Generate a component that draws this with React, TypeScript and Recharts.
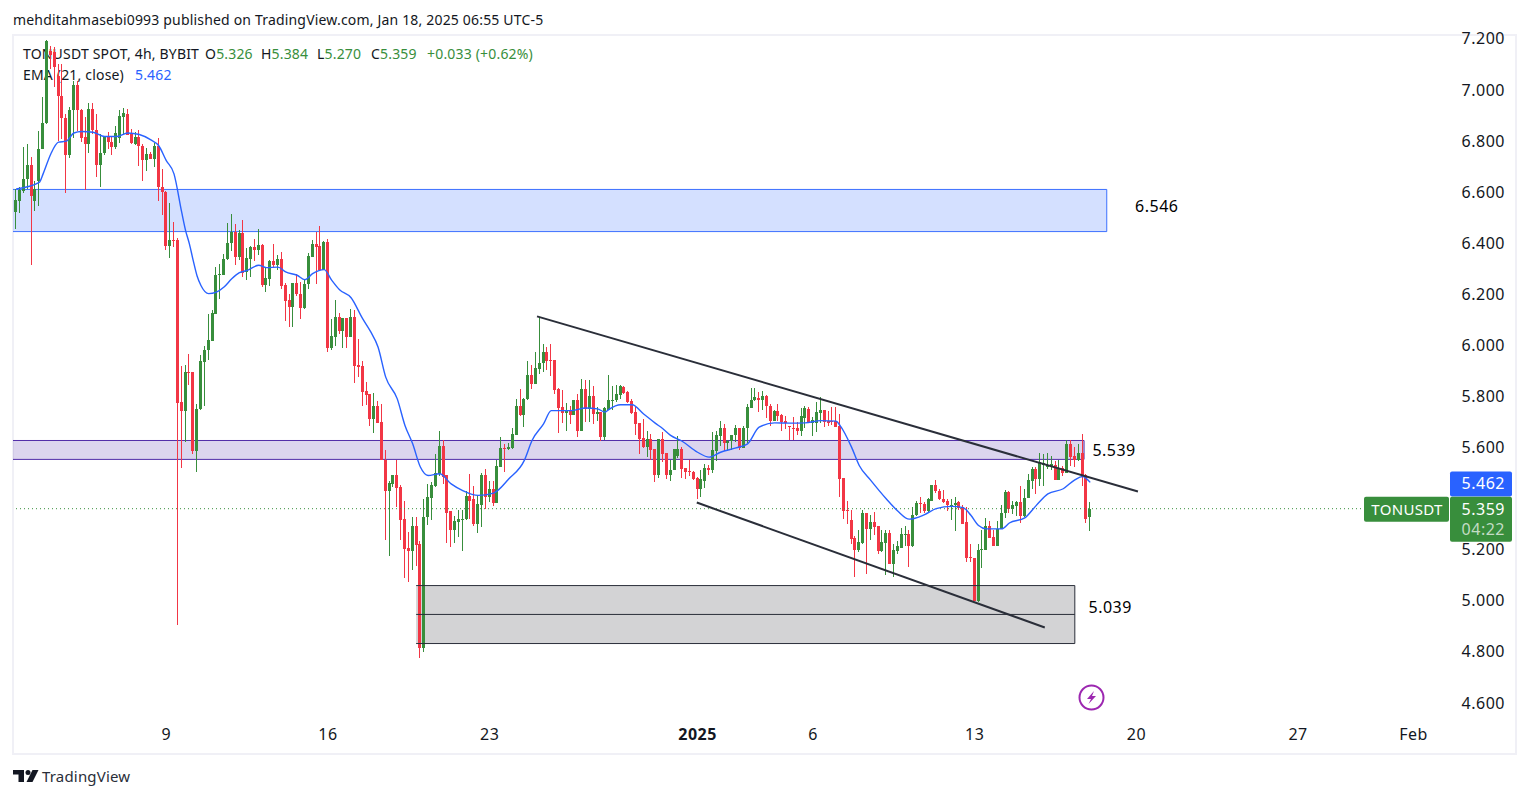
import { Bar, ComposedChart, Line, ReferenceArea, ReferenceDot, ReferenceLine, XAxis, YAxis } from "recharts";

const FONT = "'Noto Sans', sans-serif";
const UP = "#388e3c";
const DOWN = "#f23645";
const TEXT = "#131722";
const LINE = "#2a2e39";

// 4h candles
const opens = [
  6.522, 6.562, 6.601, 6.648, 6.706, 6.562, 6.644, 6.768, 6.868, 7.15,
  7.146, 7.055, 6.974, 6.889, 6.742, 6.92, 7.016, 6.92, 6.813, 6.787,
  6.924, 6.843, 6.706, 6.752, 6.813, 6.796, 6.777, 6.811, 6.894, 6.905,
  6.83, 6.787, 6.813, 6.781, 6.726, 6.748, 6.729, 6.778, 6.62, 6.598,
  6.386, 6.41, 6.41, 5.777, 5.74, 5.895, 5.893, 5.583, 5.748, 5.932,
  5.979, 6.014, 6.12, 6.274, 6.273, 6.335, 6.399, 6.442, 6.344, 6.438,
  6.286, 6.335, 6.383, 6.37, 6.39, 6.233, 6.257, 6.327, 6.312, 6.335,
  6.233, 6.175, 6.147, 6.244, 6.201, 6.143, 6.24, 6.344, 6.394, 6.386,
  6.295, 6.402, 5.987, 6.031, 6.108, 6.053, 6.104, 6.03, 6.108, 5.92,
  5.916, 5.818, 5.807, 5.709, 5.76, 5.697, 5.549, 5.43, 5.454, 5.489,
  5.442, 5.317, 5.207, 5.192, 5.293, 5.219, 4.812, 5.325, 5.399, 5.446,
  5.496, 5.603, 5.489, 5.348, 5.274, 5.305, 5.317, 5.317, 5.407, 5.395,
  5.301, 5.375, 5.489, 5.403, 5.438, 5.383, 5.524, 5.595, 5.591, 5.595,
  5.646, 5.763, 5.724, 5.787, 5.881, 5.849, 5.904, 5.928, 5.974, 5.942,
  5.943, 5.826, 5.759, 5.732, 5.743, 5.724, 5.783, 5.665, 5.826, 5.751,
  5.802, 5.728, 5.736, 5.638, 5.747, 5.779, 5.783, 5.806, 5.837, 5.814,
  5.779, 5.736, 5.693, 5.634, 5.602, 5.63, 5.591, 5.489, 5.63, 5.579,
  5.489, 5.512, 5.567, 5.591, 5.52, 5.505, 5.501, 5.481, 5.438, 5.469,
  5.52, 5.509, 5.583, 5.642, 5.673, 5.618, 5.625, 5.646, 5.673, 5.597,
  5.673, 5.755, 5.786, 5.793, 5.786, 5.802, 5.763, 5.704, 5.743, 5.724,
  5.704, 5.681, 5.676, 5.676, 5.665, 5.716, 5.751, 5.696, 5.696, 5.732,
  5.747, 5.704, 5.704, 5.704, 5.681, 5.481, 5.352, 5.313, 5.243, 5.196,
  5.223, 5.344, 5.278, 5.305, 5.293, 5.192, 5.223, 5.262, 5.141, 5.192,
  5.207, 5.257, 5.258, 5.211, 5.333, 5.381, 5.376, 5.348, 5.391, 5.45,
  5.43, 5.398, 5.39, 5.365, 5.372, 5.384, 5.365, 5.305, 5.168, 5.164,
  4.996, 5.198, 5.199, 5.293, 5.25, 5.211, 5.278, 5.344, 5.423, 5.356,
  5.368, 5.387, 5.329, 5.399, 5.466, 5.513, 5.477, 5.53, 5.522, 5.524,
  5.532, 5.47, 5.517, 5.5, 5.614, 5.564, 5.548, 5.579, 5.489, 5.326,
];
const highs = [
  6.611, 6.618, 6.774, 6.787, 6.735, 6.644, 6.839, 6.97, 7.196, 7.172,
  7.166, 7.1, 7.1, 6.905, 6.933, 7.035, 7.035, 6.924, 6.892, 6.946,
  6.946, 6.905, 6.826, 6.816, 6.833, 6.816, 6.859, 6.922, 6.928, 6.924,
  6.846, 6.833, 6.842, 6.787, 6.772, 6.755, 6.79, 6.811, 6.689, 6.601,
  6.555, 6.481, 6.42, 5.916, 5.92, 5.966, 5.893, 5.767, 5.959, 5.995,
  6.12, 6.135, 6.305, 6.318, 6.357, 6.479, 6.514, 6.472, 6.449, 6.488,
  6.38, 6.386, 6.416, 6.453, 6.394, 6.303, 6.334, 6.394, 6.351, 6.366,
  6.243, 6.201, 6.244, 6.279, 6.246, 6.257, 6.36, 6.41, 6.442, 6.464,
  6.407, 6.413, 6.1, 6.177, 6.125, 6.104, 6.104, 6.139, 6.135, 6.022,
  5.936, 5.857, 5.809, 5.811, 5.779, 5.767, 5.587, 5.469, 5.489, 5.55,
  5.45, 5.391, 5.267, 5.326, 5.326, 5.231, 5.395, 5.454, 5.463, 5.574,
  5.665, 5.629, 5.489, 5.348, 5.332, 5.355, 5.352, 5.43, 5.496, 5.446,
  5.411, 5.499, 5.515, 5.469, 5.469, 5.548, 5.639, 5.613, 5.616, 5.676,
  5.787, 5.828, 5.793, 5.939, 5.92, 5.974, 6.109, 6.004, 5.991, 6.004,
  5.943, 5.832, 5.822, 5.772, 5.763, 5.783, 5.809, 5.867, 5.861, 5.861,
  5.841, 5.757, 5.736, 5.759, 5.884, 5.841, 5.845, 5.845, 5.841, 5.819,
  5.789, 5.756, 5.693, 5.711, 5.664, 5.652, 5.591, 5.63, 5.659, 5.579,
  5.55, 5.591, 5.642, 5.6, 5.52, 5.55, 5.505, 5.485, 5.509, 5.533,
  5.531, 5.659, 5.665, 5.704, 5.691, 5.629, 5.649, 5.685, 5.676, 5.681,
  5.77, 5.83, 5.832, 5.815, 5.818, 5.806, 5.77, 5.746, 5.77, 5.73,
  5.72, 5.681, 5.717, 5.698, 5.754, 5.763, 5.756, 5.717, 5.776, 5.796,
  5.747, 5.743, 5.756, 5.756, 5.73, 5.481, 5.391, 5.352, 5.254, 5.274,
  5.352, 5.344, 5.333, 5.346, 5.293, 5.274, 5.276, 5.274, 5.219, 5.232,
  5.284, 5.293, 5.274, 5.365, 5.391, 5.404, 5.385, 5.402, 5.45, 5.472,
  5.437, 5.434, 5.398, 5.398, 5.404, 5.391, 5.372, 5.365, 5.219, 5.164,
  5.222, 5.274, 5.322, 5.31, 5.274, 5.309, 5.372, 5.434, 5.427, 5.391,
  5.391, 5.447, 5.437, 5.493, 5.522, 5.522, 5.578, 5.574, 5.577, 5.567,
  5.545, 5.548, 5.528, 5.626, 5.629, 5.6, 5.613, 5.652, 5.496, 5.384,
];
const lows = [
  6.455, 6.516, 6.592, 6.611, 6.311, 6.526, 6.546, 6.768, 6.868, 7.08,
  7.009, 6.8, 6.807, 6.595, 6.735, 6.813, 6.84, 6.794, 6.607, 6.751,
  6.826, 6.657, 6.618, 6.746, 6.768, 6.746, 6.768, 6.794, 6.826, 6.824,
  6.787, 6.781, 6.702, 6.641, 6.68, 6.729, 6.696, 6.563, 6.507, 6.37,
  6.34, 6.383, 4.905, 5.516, 5.62, 5.846, 5.572, 5.5, 5.744, 5.76,
  5.94, 6.014, 6.12, 6.182, 6.273, 6.335, 6.368, 6.312, 6.331, 6.266,
  6.253, 6.266, 6.331, 6.351, 6.224, 6.21, 6.233, 6.305, 6.292, 6.22,
  6.096, 6.07, 6.073, 6.194, 6.1, 6.138, 6.218, 6.344, 6.237, 6.286,
  6.295, 5.972, 5.979, 5.998, 6.042, 5.987, 5.987, 6.03, 5.851, 5.874,
  5.76, 5.767, 5.685, 5.653, 5.692, 5.549, 5.235, 5.176, 5.443, 5.365,
  5.235, 5.091, 5.071, 5.117, 5.133, 4.774, 4.797, 5.293, 5.313, 5.446,
  5.489, 5.456, 5.222, 5.208, 5.228, 5.248, 5.193, 5.317, 5.319, 5.289,
  5.263, 5.289, 5.359, 5.385, 5.372, 5.383, 5.524, 5.505, 5.587, 5.595,
  5.646, 5.724, 5.678, 5.787, 5.826, 5.849, 5.884, 5.896, 5.9, 5.877,
  5.811, 5.655, 5.694, 5.663, 5.691, 5.724, 5.642, 5.665, 5.698, 5.698,
  5.694, 5.704, 5.623, 5.63, 5.747, 5.747, 5.78, 5.789, 5.809, 5.773,
  5.73, 5.648, 5.571, 5.597, 5.561, 5.55, 5.46, 5.476, 5.541, 5.476,
  5.469, 5.509, 5.555, 5.48, 5.476, 5.489, 5.469, 5.399, 5.404, 5.438,
  5.493, 5.498, 5.548, 5.606, 5.587, 5.587, 5.591, 5.618, 5.589, 5.593,
  5.619, 5.754, 5.783, 5.737, 5.743, 5.715, 5.685, 5.704, 5.704, 5.665,
  5.669, 5.626, 5.626, 5.646, 5.646, 5.678, 5.694, 5.643, 5.659, 5.696,
  5.681, 5.685, 5.685, 5.678, 5.404, 5.321, 5.3, 5.219, 5.094, 5.188,
  5.219, 5.107, 5.237, 5.254, 5.184, 5.188, 5.098, 5.141, 5.091, 5.18,
  5.207, 5.215, 5.13, 5.209, 5.333, 5.342, 5.343, 5.346, 5.391, 5.42,
  5.395, 5.385, 5.352, 5.317, 5.271, 5.355, 5.301, 5.15, 5.15, 4.996,
  4.996, 5.124, 5.199, 5.246, 5.211, 5.211, 5.309, 5.323, 5.339, 5.339,
  5.333, 5.303, 5.326, 5.399, 5.437, 5.417, 5.45, 5.45, 5.515, 5.511,
  5.47, 5.47, 5.489, 5.5, 5.528, 5.522, 5.548, 5.45, 5.306, 5.27,
];
const closes = [
  6.568, 6.607, 6.65, 6.706, 6.582, 6.611, 6.768, 6.87, 7.192, 7.135,
  7.087, 6.974, 6.888, 6.742, 6.92, 7.016, 6.92, 6.81, 6.787, 6.924,
  6.84, 6.706, 6.752, 6.813, 6.796, 6.774, 6.83, 6.898, 6.907, 6.824,
  6.79, 6.816, 6.781, 6.726, 6.746, 6.729, 6.778, 6.618, 6.598, 6.387,
  6.41, 6.407, 5.773, 5.74, 5.895, 5.893, 5.583, 5.751, 5.936, 5.981,
  6.018, 6.124, 6.273, 6.276, 6.338, 6.4, 6.442, 6.344, 6.438, 6.283,
  6.34, 6.383, 6.37, 6.39, 6.233, 6.261, 6.327, 6.312, 6.335, 6.229,
  6.171, 6.147, 6.244, 6.198, 6.143, 6.24, 6.347, 6.394, 6.383, 6.295,
  6.402, 5.987, 6.034, 6.108, 6.053, 6.104, 6.03, 6.108, 5.916, 5.914,
  5.814, 5.803, 5.709, 5.76, 5.693, 5.549, 5.43, 5.458, 5.489, 5.439,
  5.313, 5.203, 5.192, 5.293, 5.215, 4.812, 5.328, 5.403, 5.45, 5.499,
  5.603, 5.485, 5.344, 5.274, 5.309, 5.317, 5.319, 5.407, 5.391, 5.301,
  5.379, 5.489, 5.403, 5.438, 5.383, 5.528, 5.595, 5.592, 5.599, 5.65,
  5.763, 5.724, 5.79, 5.881, 5.849, 5.908, 5.931, 5.974, 5.939, 5.939,
  5.822, 5.755, 5.732, 5.743, 5.724, 5.783, 5.665, 5.826, 5.751, 5.802,
  5.728, 5.736, 5.638, 5.755, 5.783, 5.786, 5.809, 5.841, 5.811, 5.776,
  5.732, 5.691, 5.63, 5.602, 5.63, 5.587, 5.489, 5.63, 5.575, 5.489,
  5.512, 5.591, 5.591, 5.516, 5.501, 5.501, 5.477, 5.438, 5.477, 5.52,
  5.509, 5.587, 5.646, 5.673, 5.618, 5.625, 5.647, 5.673, 5.595, 5.673,
  5.759, 5.786, 5.796, 5.786, 5.802, 5.763, 5.704, 5.743, 5.72, 5.7,
  5.696, 5.678, 5.673, 5.665, 5.72, 5.754, 5.696, 5.708, 5.736, 5.747,
  5.7, 5.693, 5.7, 5.677, 5.477, 5.348, 5.348, 5.239, 5.196, 5.227,
  5.344, 5.278, 5.305, 5.289, 5.192, 5.227, 5.262, 5.141, 5.196, 5.211,
  5.258, 5.259, 5.211, 5.336, 5.38, 5.377, 5.348, 5.395, 5.45, 5.427,
  5.395, 5.387, 5.372, 5.372, 5.381, 5.363, 5.301, 5.164, 5.166, 4.996,
  5.199, 5.203, 5.293, 5.246, 5.211, 5.278, 5.344, 5.423, 5.356, 5.372,
  5.387, 5.329, 5.399, 5.47, 5.513, 5.477, 5.54, 5.537, 5.532, 5.535,
  5.47, 5.517, 5.5, 5.614, 5.56, 5.548, 5.579, 5.485, 5.317, 5.359,
];

// EMA(21) read at the bars where the line could be measured
const emaBars = [
  0, 6, 7, 9, 11, 13, 15, 17, 20, 23, 26, 29, 32, 35, 37, 39, 41, 43, 44, 45, 46, 47, 48, 50, 52, 54, 56, 58, 60, 63,
  65, 68, 70, 73, 75, 77, 80, 82, 84, 87, 90, 92, 94, 96, 99, 101, 103, 105, 107, 110, 113, 116, 120, 124, 128, 132,
  134, 137, 139, 144, 148, 151, 153, 154, 157, 160, 163, 166, 168, 170, 173, 177, 180, 183, 187, 190, 193, 197, 201,
  205, 209, 213, 214, 217, 219, 222, 226, 229, 232, 236, 239, 243, 246, 248, 250, 252, 256, 258, 262, 265, 268, 272,
  275, 277, 279,
];
const emaValues = [
  6.611, 6.637, 6.67, 6.748, 6.794, 6.798, 6.83, 6.836, 6.833, 6.816, 6.816, 6.83, 6.824, 6.803, 6.781, 6.722, 6.67,
  6.52, 6.449, 6.396, 6.33, 6.27, 6.233, 6.201, 6.207, 6.227, 6.259, 6.283, 6.292, 6.312, 6.303, 6.305, 6.286, 6.273,
  6.256, 6.279, 6.295, 6.253, 6.216, 6.185, 6.103, 6.054, 5.992, 5.874, 5.789, 5.685, 5.613, 5.522, 5.489, 5.496,
  5.456, 5.43, 5.411, 5.42, 5.476, 5.548, 5.626, 5.691, 5.743, 5.743, 5.753, 5.75, 5.737, 5.748, 5.766, 5.766, 5.73,
  5.694, 5.672, 5.646, 5.623, 5.58, 5.561, 5.58, 5.597, 5.613, 5.678, 5.695, 5.694, 5.695, 5.704, 5.702, 5.685, 5.6,
  5.528, 5.47, 5.398, 5.35, 5.318, 5.336, 5.359, 5.368, 5.363, 5.333, 5.293, 5.28, 5.28, 5.303, 5.323, 5.372, 5.417,
  5.437, 5.472, 5.485, 5.462,
];

// 5.400 sits behind the price tags in the reference
const priceTicks = [7.2, 7, 6.8, 6.6, 6.4, 6.2, 6, 5.8, 5.6, 5.2, 5, 4.8, 4.6];
const dateTicks = [39, 81, 123, 177, 207, 249, 291, 333, 363];
const dateLabels = ["9", "16", "23", "2025", "6", "13", "20", "27", "Feb"];

const data = opens.map((open, i) => {
  const at = emaBars.indexOf(i);
  return {
    bar: i,
    open,
    high: highs[i],
    low: lows[i],
    close: closes[i],
    range: [lows[i], highs[i]],
    ema: at >= 0 ? emaValues[at] : null,
  };
});

const X_MIN = -0.82;
const X_MAX = 372.2;
const SPACING = 0.5;

function Candle(props: any) {
  const { x, y, width, height, payload } = props;
  const { open, close, high, low } = payload;
  const color = close >= open ? UP : DOWN;
  const py = (p: number) => y + ((high - p) / (high - low)) * height;
  const cx = Math.round(x + width / 2 - 0.5);
  const top = Math.round(py(Math.max(open, close)));
  const bottom = Math.round(py(Math.min(open, close)));
  return (
    <g>
      <rect x={cx} y={Math.round(y)} width={1} height={Math.max(1, Math.round(height))} fill={color} />
      <rect x={cx - 1} y={top} width={3} height={Math.max(1, bottom - top)} fill={color} />
    </g>
  );
}

function PriceTick(props: any) {
  const { y, payload } = props;
  return (
    <text x={1505} y={y + 6} textAnchor="end" fontSize={16} letterSpacing={SPACING} fontFamily={FONT} fill={TEXT}>
      {payload.value.toFixed(3)}
    </text>
  );
}

function DateTick(props: any) {
  const { x, y, payload } = props;
  const label = dateLabels[dateTicks.indexOf(payload.value)];
  return (
    <text x={x} y={y + 10} textAnchor="middle" fontSize={16} letterSpacing={SPACING} fontFamily={FONT} fill={TEXT} fontWeight={label === "2025" ? 700 : 400}>
      {label}
    </text>
  );
}

function EmaTag(props: any) {
  const y = props.viewBox.y;
  return (
    <g>
      <rect x={1450} y={y - 11} width={62} height={25} rx={2} fill="#2962ff" />
      <text x={1505} y={y + 7} textAnchor="end" fontSize={16} letterSpacing={SPACING} fontFamily={FONT} fill="#fff">5.462</text>
    </g>
  );
}

function LastTag(props: any) {
  const y = props.viewBox.y;
  return (
    <g>
      <rect x={1364} y={y - 12} width={85} height={25} rx={2} fill={UP} />
      <text x={1407} y={y + 6} textAnchor="middle" fontSize={15} letterSpacing={0.3} fontFamily={FONT} fill="#fff">TONUSDT</text>
      <rect x={1450} y={y - 12} width={62} height={45} rx={2} fill={UP} />
      <text x={1505} y={y + 6} textAnchor="end" fontSize={16} letterSpacing={SPACING} fontFamily={FONT} fill="#fff">5.359</text>
      <text x={1505} y={y + 26} textAnchor="end" fontSize={16} letterSpacing={SPACING} fontFamily={FONT} fill="#c3dcc4">04:22</text>
    </g>
  );
}

function Note(props: any) {
  const { cx, cy, text } = props;
  return (
    <text x={cx} y={cy + 5} textAnchor="middle" fontSize={16} letterSpacing={SPACING} fontFamily={FONT} fill="#000">
      {text}
    </text>
  );
}

const textAt = (left: number, top: number, color: string = TEXT, size = 14) => ({
  position: "absolute" as const,
  left,
  top,
  color,
  fontSize: size,
  lineHeight: "20px",
  letterSpacing: 0.18,
  whiteSpace: "nowrap" as const,
});

export default function App() {
  return (
    <div style={{ position: "absolute", left: 0, top: 0, width: 1529, height: 798, background: "#fff", overflow: "hidden", fontFamily: FONT }}>
      <div style={textAt(13, 10)}>mehditahmasebi0993 published on TradingView.com, Jan 18, 2025 06:55 UTC-5</div>
      <div style={{ position: "absolute", left: 12, top: 34, width: 1501, height: 717, border: "2px solid #f0f0f6" }} />
      <div style={textAt(23, 44)}>TONUSDT SPOT, 4h, BYBIT</div>
      <div style={textAt(205, 44)}>O<span style={{ color: UP }}>5.326</span></div>
      <div style={textAt(261, 44)}>H<span style={{ color: UP }}>5.384</span></div>
      <div style={textAt(317, 44)}>L<span style={{ color: UP }}>5.270</span></div>
      <div style={textAt(371, 44)}>C<span style={{ color: UP }}>5.359</span></div>
      <div style={textAt(427, 44, UP)}>+0.033 (+0.62%)</div>
      <div style={textAt(23, 65)}>EMA (21, close)</div>
      <div style={textAt(135, 65, "#2962ff")}>5.462</div>

      <div style={{ position: "absolute", left: 0, top: 0 }}>
        <ComposedChart width={1529} height={798} data={data} margin={{ top: 35, right: 13, bottom: 44, left: 13 }}>
          <XAxis
            dataKey="bar"
            type="number"
            scale="linear"
            domain={[X_MIN, X_MAX]}
            ticks={dateTicks}
            tick={<DateTick />}
            axisLine={false}
            tickLine={false}
            height={32}
            interval={0}
            allowDataOverflow
          />
          <YAxis
            orientation="right"
            type="number"
            domain={[4.5238, 7.2137]}
            ticks={priceTicks}
            tick={<PriceTick />}
            axisLine={false}
            tickLine={false}
            width={67}
            interval={0}
            allowDataOverflow
          />
          <ReferenceArea x1={-2} x2={283.3} y1={6.444} y2={6.609} ifOverflow="hidden" fill="#2962ff" fillOpacity={0.2} stroke="#2962ff" strokeOpacity={0.9} />
          <ReferenceArea x1={-2} x2={277.4} y1={5.552} y2={5.626} ifOverflow="hidden" fill="#512da8" fillOpacity={0.2} stroke="#512da8" />
          <ReferenceArea x1={103.9} x2={275} y1={4.831} y2={5.058} fill="#d3d3d5" fillOpacity={1} stroke="none" />
          <ReferenceLine segment={[{ x: 103.9, y: 5.058 }, { x: 275, y: 5.058 }]} stroke={LINE} />
          <ReferenceLine segment={[{ x: 103.9, y: 4.945 }, { x: 275, y: 4.945 }]} stroke={LINE} />
          <ReferenceLine segment={[{ x: 103.9, y: 4.831 }, { x: 275, y: 4.831 }]} stroke={LINE} />
          <ReferenceLine segment={[{ x: 275, y: 4.831 }, { x: 275, y: 5.058 }]} stroke={LINE} />
          <ReferenceLine y={5.359} stroke={UP} strokeDasharray="1 3" />
          <Bar dataKey="range" barSize={3} shape={<Candle />} isAnimationActive={false} />
          <Line dataKey="ema" type="monotone" connectNulls dot={false} activeDot={false} stroke="#2962ff" strokeWidth={1.4} isAnimationActive={false} />
          <ReferenceLine segment={[{ x: 135.3, y: 6.112 }, { x: 291.4, y: 5.426 }]} stroke={LINE} strokeWidth={2} />
          <ReferenceLine segment={[{ x: 176.8, y: 5.383 }, { x: 267.2, y: 4.894 }]} stroke={LINE} strokeWidth={2} />
          <ReferenceDot x={296.3} y={6.542} r={0} shape={<Note text="6.546" />} />
          <ReferenceDot x={285.2} y={5.583} r={0} shape={<Note text="5.539" />} />
          <ReferenceDot x={284.2} y={4.972} r={0} shape={<Note text="5.039" />} />
          <ReferenceLine y={5.462} stroke="none" label={<EmaTag />} />
          <ReferenceLine y={5.359} stroke="none" label={<LastTag />} />
        </ComposedChart>
      </div>

      <svg style={{ position: "absolute", left: 1078, top: 684 }} width={28} height={28}>
        <circle cx={13.5} cy={13.5} r={12} fill="none" stroke="#9c27b0" strokeWidth={2} />
        <path d="M16 7 L9 15 H13 L10.5 20 L18 12 H14 Z" fill="#9c27b0" />
      </svg>
      <svg style={{ position: "absolute", left: 13, top: 769 }} width={27} height={14}>
        <path d="M0 1 H11 V13 H5.5 V5.5 H0 Z" fill={TEXT} />
        <circle cx={15} cy={3.4} r={2.5} fill={TEXT} />
        <path d="M19.5 1 H25.5 L19.5 13 H13.5 Z" fill={TEXT} />
      </svg>
      <div style={textAt(42, 766, "#2a2e39", 15)}>TradingView</div>
    </div>
  );
}
